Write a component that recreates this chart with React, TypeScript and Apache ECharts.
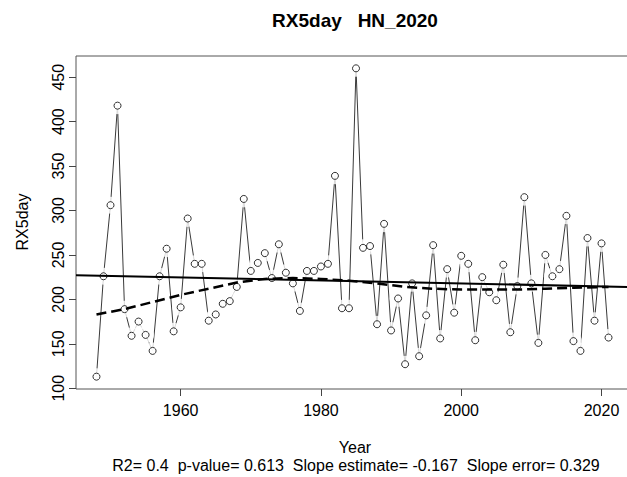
import React, { useEffect, useRef } from "react";
import * as echarts from "echarts";

const firstYear = 1948;
const rx5day = [
  113, 226, 306, 418, 189, 159, 175, 160, 142, 226,
  257, 164, 191, 291, 240, 240, 176, 183, 195, 198,
  214, 313, 232, 241, 252, 224, 262, 230, 218, 187,
  232, 232, 237, 240, 339, 190, 190, 460, 258, 260,
  172, 285, 165, 201, 127, 218, 136, 182, 261, 156,
  234, 185, 249, 240, 154, 225, 208, 199, 239, 163,
  215, 315, 218, 151, 250, 226, 234, 294, 153, 142,
  269, 176, 263, 157,
];
const years = rx5day.map((_, i) => firstYear + i);

const loessYears = [1948, 1952, 1956, 1960, 1964, 1968, 1972, 1976, 1980, 1984, 1988, 1992, 1996, 2000, 2004, 2008, 2012, 2016, 2021];
const loessValues = [183, 189, 197, 205, 212, 219, 223, 224, 223, 221, 218, 214, 212, 211, 211, 211, 212, 213, 214];

const xTicks = [1960, 1980, 2000, 2020];
const yTicks = [100, 150, 200, 250, 300, 350, 400, 450];
const slopeEstimate = -0.167;

const titleText = "RX5day\u00a0\u00a0\u00a0HN_2020";
const xName = "Year";
const yName = "RX5day";
const subText = "R2= 0.4\u00a0\u00a0p-value= 0.613\u00a0\u00a0Slope estimate= -0.167\u00a0\u00a0Slope error= 0.329";

const FONT = "'Liberation Sans', Arial, Helvetica, sans-serif";

export default function App() {
  const ref = useRef<HTMLDivElement>(null);
  useEffect(() => {
    if (!ref.current) return;
    const chart = echarts.init(ref.current, undefined, { renderer: "svg" });

    const yMinD = Math.min(...rx5day);
    const yMaxD = Math.max(...rx5day);
    const yPad = 0.04 * (yMaxD - yMinD);
    const xMinD = years[0];
    const xMaxD = years[years.length - 1];
    const xPad = 0.04 * (xMaxD - xMinD);
    const xMin = xMinD - xPad;
    const xMax = xMaxD + xPad;

    const meanX = years.reduce((a, b) => a + b, 0) / years.length;
    const meanY = rx5day.reduce((a, b) => a + b, 0) / rx5day.length;
    const intercept = meanY - slopeEstimate * meanX;
    const fit = (x: number) => intercept + slopeEstimate * x;

    const pts = years.map((y, i) => [y, rx5day[i]]);
    const loess = loessYears.map((y, i) => [y, loessValues[i]]);

    chart.setOption({
      animation: false,
      backgroundColor: "#fff",
      grid: {
        left: 76,
        top: 56,
        width: 553,
        height: 333,
        show: true,
        borderColor: "#555",
        borderWidth: 1,
        backgroundColor: "transparent",
        containLabel: false,
        outerBoundsMode: "none",
      },
      xAxis: {
        type: "value",
        min: xMin,
        max: xMax,
        axisLine: { show: false },
        splitLine: { show: false },
        axisTick: { show: true, length: 7, lineStyle: { color: "#444" }, customValues: xTicks },
        axisLabel: {
          customValues: xTicks,
          formatter: (v: number) => String(v),
          margin: 13,
          fontSize: 16,
          color: "#000",
          fontFamily: FONT,
        },
      },
      yAxis: {
        type: "value",
        min: yMinD - yPad,
        max: yMaxD + yPad,
        axisLine: { show: false },
        splitLine: { show: false },
        axisTick: { show: true, length: 7, lineStyle: { color: "#444" }, customValues: yTicks },
        axisLabel: {
          customValues: yTicks,
          formatter: (v: number) => String(v),
          rotate: 90,
          margin: 10,
          fontSize: 16,
          color: "#000",
          fontFamily: FONT,
        },
      },
      graphic: [
        { type: "text", x: 355, y: 20, style: { text: titleText, font: `bold 19px ${FONT}`, fill: "#000", align: "center", verticalAlign: "middle" } },
        { type: "text", x: 355, y: 447, style: { text: xName, font: `16px ${FONT}`, fill: "#000", align: "center", verticalAlign: "middle" } },
        { type: "text", x: 356, y: 465, style: { text: subText, font: `16px ${FONT}`, fill: "#000", align: "center", verticalAlign: "middle" } },
        { type: "text", x: 22, y: 222, rotation: Math.PI / 2, style: { text: yName, font: `16px ${FONT}`, fill: "#000", align: "center", verticalAlign: "middle" } },
      ],
      series: [
        { type: "line", data: pts, showSymbol: false, lineStyle: { color: "#3a3a3a", width: 1 }, z: 2, silent: true },
        { type: "scatter", data: pts, symbol: "circle", symbolSize: 17, itemStyle: { color: "#fff" }, z: 3, silent: true },
        { type: "scatter", data: pts, symbol: "circle", symbolSize: 7, itemStyle: { color: "#fff", borderColor: "#000", borderWidth: 1 }, z: 4, silent: true },
        { type: "line", data: [[xMin, fit(xMin)], [xMax, fit(xMax)]], showSymbol: false, lineStyle: { color: "#000", width: 2 }, z: 5, silent: true },
        { type: "line", data: loess, showSymbol: false, lineStyle: { color: "#000", width: 2.5, type: [10, 5] }, z: 6, silent: true },
      ],
    });
    return () => chart.dispose();
  }, []);
  return <div ref={ref} style={{ position: "fixed", left: 0, top: 0, width: 627, height: 477 }} />;
}
